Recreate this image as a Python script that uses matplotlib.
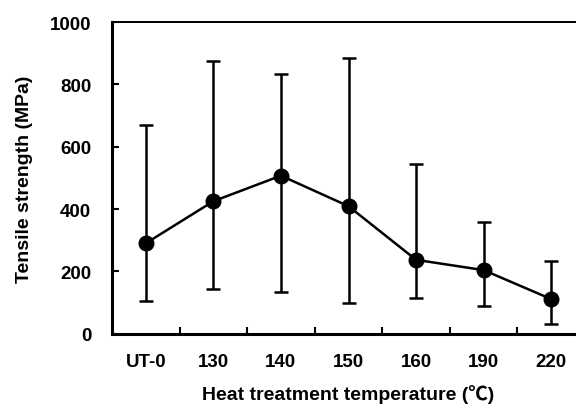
import numpy as np
import matplotlib
matplotlib.use('Agg')
import matplotlib.pyplot as plt

plt.rcParams['font.family'] = ['Liberation Sans', 'DejaVu Sans']
plt.rcParams['font.weight'] = 'bold'

# data
categories = ['UT-0', '130', '140', '150', '160', '190', '220']
strength = [290, 425, 507, 409, 237, 204, 111]
err_upper = [669, 874, 834, 884, 544, 357, 232]
err_lower = [104, 143, 133, 98, 114, 89, 30]

x = np.arange(len(categories))
yerr = [np.array(strength) - np.array(err_lower), np.array(err_upper) - np.array(strength)]

fig = plt.figure(figsize=(5.76, 4.06), dpi=100)
# right edge of the axes runs past the figure like in the reference crop
ax = fig.add_axes([112 / 576, (406 - 334.7) / 406, (585 - 112) / 576, (334.7 - 23) / 406])

ax.errorbar(x, strength, yerr=yerr, color='black', lw=1.8, elinewidth=1.8,
            capsize=5, capthick=1.8, marker='o', markersize=10.5)

ax.set_xlim(-0.5, len(categories) - 0.5)
ax.set_ylim(0, 1000)
ax.set_yticks([0, 200, 400, 600, 800, 1000])
ax.set_xticks(x)
ax.set_xticklabels(categories)
ax.set_xticks(x[:-1] + 0.5, minor=True)

ax.tick_params(axis='x', which='major', length=0, pad=14, labelsize=13.5)
ax.tick_params(axis='x', which='minor', direction='in', length=5, width=1.5)
ax.tick_params(axis='y', direction='in', length=5, width=1.5, pad=15, labelsize=13.5)
for lbl in ax.get_xticklabels() + ax.get_yticklabels():
    lbl.set_fontweight('bold')

for s in ['left', 'bottom']:
    ax.spines[s].set_linewidth(2.2)
ax.spines['top'].set_linewidth(1.4)
ax.spines['right'].set_linewidth(1.4)

ax.set_xlabel('Heat treatment temperature (℃)', fontsize=14, fontweight='bold',
              labelpad=10, family=['Liberation Sans', 'Noto Sans CJK SC'])
ax.set_ylabel('Tensile strength (MPa)', fontsize=14, fontweight='bold', labelpad=12)

fig.savefig('out.png', dpi=100)
